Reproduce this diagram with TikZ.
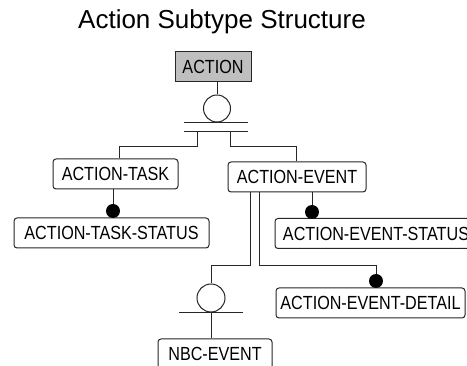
\documentclass[tikz,border=0pt]{standalone}
\usepackage{graphicx}
\usepackage{fontspec}
\setmainfont{Liberation Sans}
\newcommand{\narrow}[1]{\scalebox{0.85}[1]{#1}}
\tikzset{
  line/.style={draw=black!85, line width=1pt},
  entity/.style={draw=black!85, line width=1pt, rounded corners=3pt,
    minimum height=30pt, inner sep=0pt, fill=white,
    font=\fontsize{19pt}{21pt}\selectfont},
  rootbox/.style={entity, rounded corners=0pt, fill=black!25},
  hollow/.style={circle, draw=black!85, line width=1pt, fill=white,
    minimum size=27pt, inner sep=0pt},
  solid dot/.style={circle, fill=black, minimum size=14pt, inner sep=0pt},
}
\begin{document}
\begin{tikzpicture}[x=1pt,y=-1pt]
  \useasboundingbox (0,0) rectangle (467,366);
  \clip (0,0) rectangle (467,366);

  % title
  \node[anchor=base, font=\fontsize{26pt}{28pt}\selectfont] (title)
    at (222,28.5) {Action Subtype Structure};

  % entities
  \node[rootbox, minimum width=76pt] (act) at (213,66.5) {\narrow{ACTION}};
  \node[entity, minimum width=125pt] (at)  at (115.5,174) {\narrow{ACTION-TASK}};
  \node[entity, minimum width=138pt] (ae)  at (297,177) {\narrow{ACTION-EVENT}};
  \node[entity, minimum width=195pt] (ats) at (111.5,233) {\narrow{ACTION-TASK-STATUS}};
  \node[entity, minimum width=202pt] (aes) at (376,233.5) {\narrow{ACTION-EVENT-STATUS}};
  \node[entity, minimum width=189pt] (aed) at (370.5,303) {\narrow{ACTION-EVENT-DETAIL}};
  \node[entity, minimum width=114pt] (nbc) at (215,354) {\narrow{NBC-EVENT}};

  % subtype discriminators
  \node[hollow] (c1) at (217,108.5) {};
  \node[hollow, minimum size=28pt] (c2) at (211,298) {};

  % relationship dots
  \node[solid dot] (d1) at (113,211) {};
  \node[solid dot] (d2) at (312,212) {};
  \node[solid dot] (d3) at (376,281) {};

  % junction points
  \coordinate (j1) at (197,132);
  \coordinate (j2) at (230,132);
  \coordinate (k1) at (197,147);
  \coordinate (k2) at (230,147);
  \coordinate (e1) at (250,266);
  \coordinate (e2) at (259,266);

  % ACTION complete subtype cluster
  \draw[line] (act.south -| c1.north) -- (c1.north);
  \draw[line] ([xshift=-33pt]c1.south) -- ([xshift=31pt]c1.south);
  \draw[line] ([xshift=-33pt]c1.south |- j1) -- ([xshift=31pt]c1.south |- j1);
  \draw[line] (j1) -- (k1) -| ([xshift=3.5pt]at.north);
  \draw[line] (j2) -- (k2) -| ([xshift=-1pt]ae.north);

  % dependent entities
  \draw[line] (at.south -| d1) -- (d1);
  \draw[line] (ae.south -| d2) -- (d2);
  \draw[line] (ae.south -| e2) -- (e2) -| (d3.north);

  % ACTION-EVENT incomplete subtype cluster
  \draw[line] (ae.south -| e1) -- (e1) -| (c2.north);
  \draw[line] ([xshift=-32pt]c2.south) -- ([xshift=32pt]c2.south);
  \draw[line] (c2.south) -- (nbc.north -| c2);
\end{tikzpicture}
\end{document}
